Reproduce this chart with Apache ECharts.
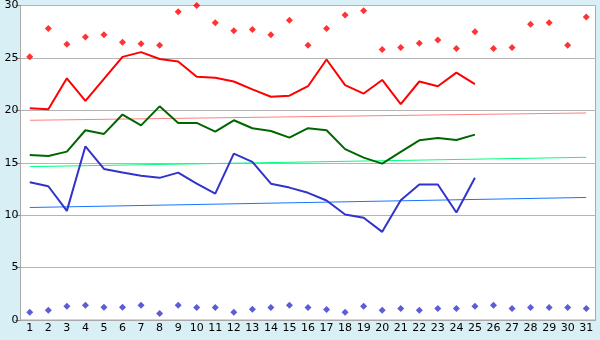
<!DOCTYPE html>
<html><head><meta charset="utf-8">
<script src="https://cdn.jsdelivr.net/npm/echarts@6/dist/echarts.min.js"></script>
<style>html,body{margin:0;padding:0;background:#d9eff6}#c{width:600px;height:340px}</style>
</head><body><div id="c"></div>
<script>
var days = ['1','2','3','4','5','6','7','8','9','10','11','12','13','14','15','16','17','18','19','20','21','22','23','24','25','26','27','28','29','30','31'];
var yTicks = [0,5,10,15,20,25,30];
var maxPoints = [25.1,27.8,26.3,27.0,27.2,26.5,26.35,26.2,29.4,30.0,28.35,27.6,27.7,27.2,28.6,26.2,27.8,29.1,29.5,25.8,26.0,26.4,26.7,25.9,27.5,25.9,26.0,28.2,28.35,26.2,28.9];
var minPoints = [0.73,0.92,1.3,1.4,1.21,1.21,1.4,0.63,1.4,1.2,1.2,0.73,1.02,1.2,1.4,1.2,1.0,0.73,1.3,0.92,1.1,0.92,1.1,1.1,1.3,1.4,1.1,1.2,1.2,1.2,1.1];
var redLine = [20.2,20.1,23.05,20.9,23.0,25.1,25.55,24.9,24.65,23.2,23.1,22.75,22.0,21.3,21.4,22.3,24.85,22.4,21.6,22.9,20.6,22.75,22.3,23.6,22.5];
var greenLine = [15.74,15.65,16.06,18.1,17.75,19.6,18.57,20.38,18.8,18.8,17.97,19.05,18.29,18.03,17.4,18.3,18.1,16.3,15.49,14.92,16.03,17.14,17.36,17.17,17.68];
var blueLine = [13.14,12.76,10.41,16.57,14.41,14.06,13.75,13.56,14.06,13.0,12.06,15.87,15.08,13.0,12.63,12.13,11.4,10.06,9.75,8.41,11.43,12.92,12.92,10.25,13.56];
var redTrend = [19.05,19.75];
var greenTrend = [14.63,15.52];
var blueTrend = [10.73,11.69];

function trend(ends){ return [[days[0],ends[0]],[days[days.length-1],ends[1]]]; }

var chart = echarts.init(document.getElementById('c'), null, {renderer:'canvas'});
var font = {fontFamily:'DejaVu Sans', fontSize:11, color:'#000'};
chart.setOption({
  animation:false,
  backgroundColor:'#d9eff6',
  grid:{left:20.5,right:4.5,top:5.5,bottom:20,show:true,backgroundColor:'#fff',borderColor:'#aaa',borderWidth:1},
  xAxis:{type:'category',data:days,boundaryGap:true,
    axisLine:{lineStyle:{color:'#aaa'}},
    axisTick:{alignWithLabel:true,length:5,lineStyle:{color:'#888'}},
    axisLabel:Object.assign({margin:3,interval:0},font),
    splitLine:{show:false}},
  yAxis:{type:'value',min:yTicks[0],max:yTicks[yTicks.length-1],interval:5,
    axisLine:{show:true,lineStyle:{color:'#aaa'}},
    axisTick:{show:true,length:5,lineStyle:{color:'#888'}},
    axisLabel:Object.assign({margin:2},font),
    splitLine:{lineStyle:{color:'#b4b4b4',width:1}}},
  series:[
    {type:'line',data:trend(redTrend),symbol:'none',lineStyle:{color:'#ff8080',width:1},z:1},
    {type:'line',data:trend(greenTrend),symbol:'none',lineStyle:{color:'#00ff80',width:1},z:1},
    {type:'line',data:trend(blueTrend),symbol:'none',lineStyle:{color:'#1a75ff',width:1},z:1},
    {type:'line',data:redLine,symbol:'none',lineStyle:{color:'#ff0000',width:2},z:3},
    {type:'line',data:greenLine,symbol:'none',lineStyle:{color:'#006600',width:2},z:3},
    {type:'line',data:blueLine,symbol:'none',lineStyle:{color:'#3333cc',width:2},z:3},
    {type:'scatter',data:maxPoints,symbol:'diamond',symbolSize:7,itemStyle:{color:'#ff0000'},z:4},
    {type:'scatter',data:minPoints,symbol:'diamond',symbolSize:7,itemStyle:{color:'#3333cc'},z:4}
  ]
});
</script></body></html>
